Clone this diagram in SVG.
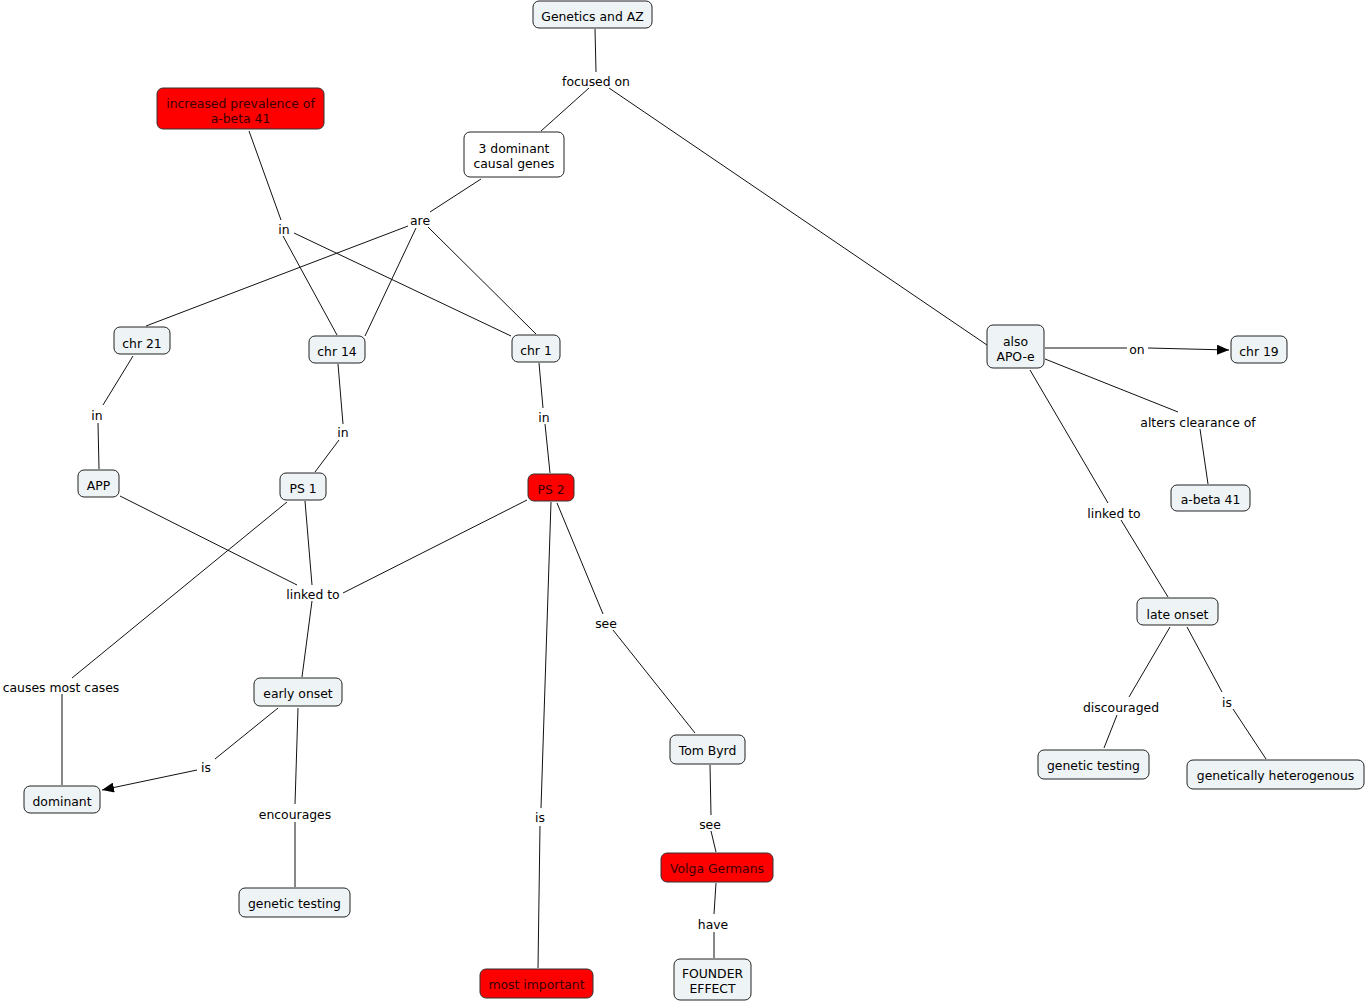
<svg xmlns="http://www.w3.org/2000/svg" width="1367" height="1003" viewBox="0 0 1367 1003">
<style>
text{font-family:"DejaVu Sans","Verdana",sans-serif;font-size:12.4px;text-anchor:middle;dominant-baseline:central;fill:#000;transform:translateY(1px)}
.n rect{fill:#eef3f5;stroke:#222;stroke-width:1}
.n.w rect{fill:#fff}
.n.r rect{fill:#ff0000;stroke:#333}
.n.r text{fill:#3a0000}
.c line{stroke:#111;stroke-width:1}
.lb text{fill:#000}
</style>
<defs>
<marker id="ah" viewBox="0 0 12 10" refX="12" refY="5" markerWidth="12" markerHeight="10" markerUnits="userSpaceOnUse" orient="auto">
<path d="M0,0 L12,5 L0,10 z" fill="#000"/>
</marker>
</defs>
<rect width="1367" height="1003" fill="#fff"/>
<g class="c">
<line x1="595" y1="29" x2="596" y2="72"/>
<line x1="589" y1="88" x2="541" y2="131"/>
<line x1="609" y1="88" x2="987" y2="345"/>
<line x1="481" y1="179" x2="430" y2="212"/>
<line x1="408" y1="226" x2="146" y2="326"/>
<line x1="416" y1="228" x2="365" y2="336"/>
<line x1="428" y1="227" x2="536" y2="334"/>
<line x1="249" y1="131" x2="281" y2="220"/>
<line x1="283" y1="236" x2="337" y2="335"/>
<line x1="294" y1="233" x2="511" y2="336"/>
<line x1="133" y1="356" x2="103" y2="405"/>
<line x1="98" y1="423" x2="99" y2="469"/>
<line x1="338" y1="364" x2="343" y2="424"/>
<line x1="339" y1="440" x2="315" y2="472"/>
<line x1="539" y1="363" x2="543" y2="408"/>
<line x1="545" y1="424" x2="550" y2="473"/>
<line x1="120" y1="496" x2="297" y2="585"/>
<line x1="305" y1="501" x2="312" y2="585"/>
<line x1="527" y1="500" x2="343" y2="593"/>
<line x1="312" y1="601" x2="302" y2="677"/>
<line x1="287" y1="502" x2="72" y2="678"/>
<line x1="62" y1="694" x2="62" y2="785"/>
<line x1="278" y1="708" x2="215" y2="759"/>
<line x1="197" y1="770" x2="102" y2="790" marker-end="url(#ah)"/>
<line x1="298" y1="708" x2="295" y2="804"/>
<line x1="295" y1="822" x2="295" y2="887"/>
<line x1="551" y1="502" x2="541" y2="808"/>
<line x1="540" y1="826" x2="538" y2="968"/>
<line x1="557" y1="503" x2="603" y2="614"/>
<line x1="613" y1="630" x2="695" y2="733"/>
<line x1="710" y1="765" x2="711" y2="815"/>
<line x1="711" y1="831" x2="716" y2="852"/>
<line x1="716" y1="883" x2="714" y2="914"/>
<line x1="714" y1="932" x2="714" y2="958"/>
<line x1="1045" y1="348" x2="1127" y2="348"/>
<line x1="1148" y1="348" x2="1229" y2="350" marker-end="url(#ah)"/>
<line x1="1045" y1="359" x2="1178" y2="412"/>
<line x1="1200" y1="429" x2="1208" y2="484"/>
<line x1="1030" y1="370" x2="1108" y2="503"/>
<line x1="1121" y1="520" x2="1168" y2="597"/>
<line x1="1170" y1="627" x2="1129" y2="697"/>
<line x1="1117" y1="715" x2="1104" y2="748"/>
<line x1="1187" y1="627" x2="1222" y2="692"/>
<line x1="1233" y1="709" x2="1266" y2="759"/>
</g>
<g class="lb">
<text x="596" y="80">focused on</text>
<text x="420" y="219">are</text>
<text x="284" y="228">in</text>
<text x="97" y="414">in</text>
<text x="343" y="431">in</text>
<text x="544" y="416">in</text>
<text x="313" y="593">linked to</text>
<text x="61" y="686">causes most cases</text>
<text x="206" y="766">is</text>
<text x="295" y="813">encourages</text>
<text x="540" y="816">is</text>
<text x="606" y="622">see</text>
<text x="710" y="823">see</text>
<text x="713" y="923">have</text>
<text x="1137" y="348">on</text>
<text x="1198" y="421">alters clearance of</text>
<text x="1114" y="512">linked to</text>
<text x="1121" y="706">discouraged</text>
<text x="1227" y="701">is</text>
</g>
<g id="n-genetics" class="n"><rect x="533" y="1" width="119" height="27" rx="6"/><text x="592.5" y="15">Genetics and AZ</text></g>
<g id="n-3dom" class="n w"><rect x="464" y="132" width="100" height="45" rx="6"/><text x="514" y="147">3 dominant</text><text x="514" y="162">causal genes</text></g>
<g id="n-increased" class="n r"><rect x="157" y="88" width="167" height="41" rx="6"/><text x="240.5" y="102">increased prevalence of</text><text x="240.5" y="117">a-beta 41</text></g>
<g id="n-chr21" class="n"><rect x="114" y="327" width="56" height="27" rx="6"/><text x="142" y="342">chr 21</text></g>
<g id="n-chr14" class="n"><rect x="309" y="336" width="56" height="27" rx="6"/><text x="337" y="350">chr 14</text></g>
<g id="n-chr1" class="n"><rect x="512" y="335" width="48" height="27" rx="6"/><text x="536" y="349">chr 1</text></g>
<g id="n-apoe" class="n"><rect x="987" y="325" width="57" height="43" rx="6"/><text x="1015.5" y="340">also</text><text x="1015.5" y="355">APO-e</text></g>
<g id="n-chr19" class="n"><rect x="1231" y="336" width="56" height="27" rx="6"/><text x="1259" y="350">chr 19</text></g>
<g id="n-abeta" class="n"><rect x="1171" y="485" width="79" height="26" rx="6"/><text x="1210.5" y="498">a-beta 41</text></g>
<g id="n-app" class="n"><rect x="78" y="470" width="41" height="27" rx="6"/><text x="98.5" y="484">APP</text></g>
<g id="n-ps1" class="n"><rect x="280" y="473" width="46" height="27" rx="6"/><text x="303" y="487">PS 1</text></g>
<g id="n-ps2" class="n r"><rect x="528" y="474" width="46" height="27" rx="6"/><text x="551" y="488">PS 2</text></g>
<g id="n-late" class="n"><rect x="1137" y="598" width="81" height="27" rx="6"/><text x="1177.5" y="613">late onset</text></g>
<g id="n-early" class="n"><rect x="254" y="678" width="88" height="28" rx="6"/><text x="298" y="692">early onset</text></g>
<g id="n-dominant" class="n"><rect x="24" y="786" width="76" height="27" rx="6"/><text x="62" y="800">dominant</text></g>
<g id="n-tombyrd" class="n"><rect x="670" y="735" width="75" height="29" rx="6"/><text x="707.5" y="749">Tom Byrd</text></g>
<g id="n-gtest1" class="n"><rect x="239" y="888" width="111" height="29" rx="6"/><text x="294.5" y="902">genetic testing</text></g>
<g id="n-gtest2" class="n"><rect x="1038" y="750" width="111" height="29" rx="6"/><text x="1093.5" y="764">genetic testing</text></g>
<g id="n-hetero" class="n"><rect x="1187" y="760" width="177" height="29" rx="6"/><text x="1275.5" y="774">genetically heterogenous</text></g>
<g id="n-volga" class="n r"><rect x="661" y="853" width="112" height="29" rx="6"/><text x="717" y="867">Volga Germans</text></g>
<g id="n-important" class="n r"><rect x="480" y="969" width="113" height="29" rx="6"/><text x="536.5" y="983">most important</text></g>
<g id="n-founder" class="n"><rect x="674" y="959" width="77" height="41" rx="6"/><text x="712.5" y="972">FOUNDER</text><text x="712.5" y="987">EFFECT</text></g>
</svg>
